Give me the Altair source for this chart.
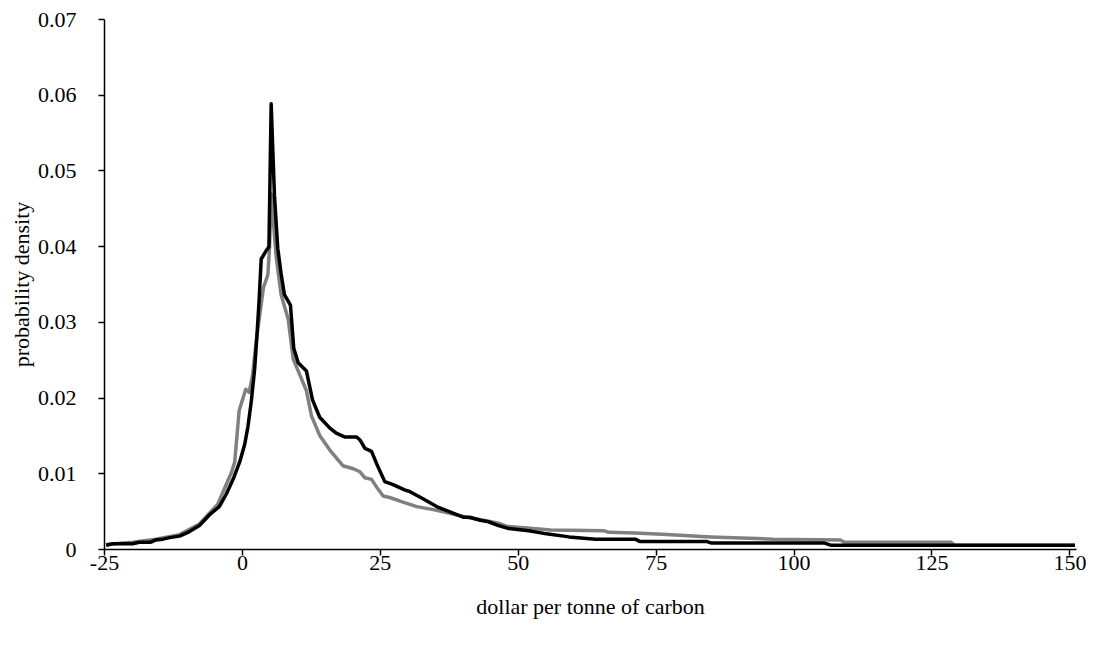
import altair as alt
import pandas as pd

# dollar per tonne of carbon (x) and probability density (y)
black_x = [-24.6, -23.4, -19.8, -18.6, -16.5, -15.6, -14.3, -13.1, -11.3, -9.5, -7.7, -5.9,
           -4.1, -2.8, -1.6, -0.4, 0.5, 1.1, 1.7, 2.3, 2.7, 3.1, 3.5, 4.4, 4.9, 5.3, 5.9,
           6.5, 7.1, 7.7, 8.8, 9.4, 10.2, 11.7, 12.8, 14.1, 15.9, 17.1, 18.6, 20.8, 21.4,
           22.3, 23.5, 24.4, 25.9, 27.4, 29.5, 30.4, 32.9, 35.3, 37.7, 40.1, 41.3, 43.2,
           44.7, 46.5, 48.4, 52.0, 55.2, 59.3, 64.1, 71.3, 72.1, 84.2, 85.0, 105.5, 106.7, 151.0]
black_y = [0.0005, 0.0007, 0.0007, 0.0009, 0.0009, 0.0012, 0.0013, 0.0015, 0.0017, 0.0023,
           0.0031, 0.0045, 0.0056, 0.0073, 0.0092, 0.0115, 0.0138, 0.0162, 0.0195, 0.0237,
           0.0279, 0.0326, 0.0383, 0.0394, 0.0399, 0.0588, 0.0467, 0.0397, 0.0364, 0.0336,
           0.0322, 0.0265, 0.0246, 0.0235, 0.0197, 0.0174, 0.0160, 0.0153, 0.0148, 0.0148,
           0.0144, 0.0133, 0.0129, 0.0113, 0.0089, 0.0085, 0.0078, 0.0076, 0.0066, 0.0056,
           0.0049, 0.0042, 0.0042, 0.0038, 0.0036, 0.0031, 0.0027, 0.0024, 0.0020, 0.0016,
           0.0013, 0.0013, 0.0010, 0.0010, 0.0008, 0.0008, 0.0005, 0.0005]

gray_x = [-24.6, -19.8, -15.6, -11.3, -7.7, -4.4, -1.9, -1.3, -0.5, 0.7, 1.3, 1.9, 2.6, 3.9,
          4.7, 5.0, 5.3, 6.2, 7.1, 8.4, 9.3, 10.5, 11.7, 12.6, 14.1, 15.9, 18.3, 20.2, 21.4,
          22.3, 23.5, 24.4, 25.6, 26.8, 29.2, 31.7, 34.7, 37.7, 40.7, 43.8, 46.5, 48.0, 52.8,
          56.0, 65.7, 66.5, 71.3, 77.0, 85.0, 96.3, 108.5, 109.2, 128.5, 129.2, 151.0]
gray_y = [0.0006, 0.0009, 0.0013, 0.0019, 0.0033, 0.0059, 0.0101, 0.0115, 0.0183, 0.0211,
          0.0207, 0.0228, 0.0275, 0.0345, 0.0362, 0.0397, 0.0469, 0.0387, 0.0336, 0.0303,
          0.0251, 0.0230, 0.0209, 0.0176, 0.0150, 0.0131, 0.0110, 0.0106, 0.0102, 0.0094,
          0.0092, 0.0082, 0.0070, 0.0068, 0.0062, 0.0056, 0.0052, 0.0047, 0.0042, 0.0038,
          0.0034, 0.0030, 0.0027, 0.0025, 0.0024, 0.0022, 0.0021, 0.0019, 0.0016, 0.0013,
          0.0012, 0.0009, 0.0009, 0.0005, 0.0005]

x_ticks = [-25, 0, 25, 50, 75, 100, 125, 150]
y_ticks = [0, 0.01, 0.02, 0.03, 0.04, 0.05, 0.06, 0.07]

FONT = "Liberation Serif"

df_black = pd.DataFrame({"x": black_x, "y": black_y})
df_gray = pd.DataFrame({"x": gray_x, "y": gray_y})

x_enc = alt.X(
    "x:Q",
    scale=alt.Scale(domain=[-25, 151.2], nice=False, zero=False),
    axis=alt.Axis(
        title="dollar per tonne of carbon",
        values=x_ticks,
        labelExpr="'' + datum.value",
        labelFlush=False,
        grid=False,
        tickSize=6,
        labelPadding=-3,
        titleY=64,
        titleBaseline="alphabetic",
    ),
)
y_enc = alt.Y(
    "y:Q",
    scale=alt.Scale(domain=[0, 0.07], nice=False),
    axis=alt.Axis(
        title="probability density",
        values=y_ticks,
        labelExpr="datum.value == 0 ? '0' : format(datum.value, '.2f')",
        labelFlush=False,
        grid=False,
        tickSize=6,
        labelPadding=22,
        titleX=-76,
        titleBaseline="alphabetic",
    ),
)

gray_line = alt.Chart(df_gray).mark_line(
    color="#808080", strokeWidth=3.5, strokeJoin="round", clip=True
).encode(x=x_enc, y=y_enc)
black_line = alt.Chart(df_black).mark_line(
    color="#000000", strokeWidth=3.5, strokeJoin="round", clip=True
).encode(x=x_enc, y=y_enc)

chart = (
    alt.layer(gray_line, black_line)
    .properties(
        width=972,
        height=530,
        padding={"left": 96, "top": 11, "right": 13, "bottom": 90},
        autosize=alt.AutoSizeParams(type="none"),
        background="white",
    )
    .configure_view(stroke=None)
    .configure_axis(
        domainColor="black",
        domainWidth=1.5,
        tickColor="black",
        tickWidth=1.5,
        labelFont=FONT,
        titleFont=FONT,
        labelFontSize=22,
        titleFontSize=22,
        labelColor="black",
        titleColor="black",
        titleFontWeight="normal",
    )
)

chart.save("out.html", embed_options={"renderer": "svg", "actions": False})
